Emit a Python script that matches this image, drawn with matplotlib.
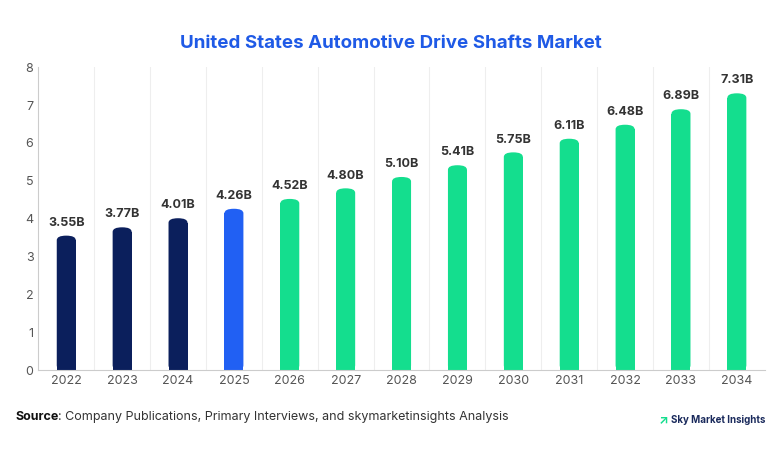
import matplotlib.pyplot as plt
from matplotlib.patches import FancyBboxPatch

years = ['2022', '2023', '2024', '2025', '2026', '2027', '2028', '2029', '2030', '2031', '2032', '2033', '2034']
values = [3.55, 3.77, 4.01, 4.26, 4.52, 4.80, 5.10, 5.41, 5.75, 6.11, 6.48, 6.89, 7.31]
labels = ['3.55B', '3.77B', '4.01B', '4.26B', '4.52B', '4.80B', '5.10B', '5.41B', '5.75B', '6.11B', '6.48B', '6.89B', '7.31B']
colors = ['#0b1f5c'] * 3 + ['#2160f3'] + ['#14de8e'] * 9

plt.rcParams['font.family'] = ['Inter', 'DejaVu Sans']
fig = plt.figure(figsize=(7.82, 4.54), dpi=100)
ax = fig.add_axes([0.049, 0.185, 0.929, 0.667])

w = 0.34
for i, (v, c) in enumerate(zip(values, colors)):
    # bar body plus rounded top
    ax.bar(i, v - 0.12, width=w, color=c, align='center')
    ax.add_patch(FancyBboxPatch((i - w / 2, 0), w, v,
                                boxstyle='round,pad=0,rounding_size=0.17',
                                mutation_aspect=0.7, fc=c, ec='none'))
    ax.text(i, v + 0.18, labels[i], ha='center', va='bottom',
            fontsize=9, fontweight='bold', color='#333333')

ax.set_xlim(-0.5, len(years) - 0.5)
ax.set_ylim(0, 8)
ax.set_xticks(range(len(years)))
ax.set_xticklabels(years)
ax.set_xticks([i + 0.5 for i in range(len(years) - 1)], minor=True)
ax.grid(axis='x', which='minor', color='#eeeeee', lw=0.8)
ax.tick_params(which='both', length=0)
ax.tick_params(labelsize=9, colors='#555555')
for s in ['top', 'right']:
    ax.spines[s].set_visible(False)
for s in ['left', 'bottom']:
    ax.spines[s].set_color('#cccccc')
ax.set_axisbelow(True)

fig.text(0.5, 0.895, 'United States Automotive Drive Shafts Market', ha='center',
         fontsize=13.5, fontweight='bold', color='#1f5ae6')
fig.text(0.02, 0.075, 'Source', fontsize=9, fontweight='bold', color='#111111')
fig.text(0.074, 0.075, ': Company Publications, Primary Interviews, and skymarketinsights Analysis',
         fontsize=9, color='#333333')
fig.text(0.855, 0.068, '\u2197', fontsize=9, fontweight='bold', color='#14de8e', ha='right')
fig.text(0.858, 0.068, 'Sky Market Insights', fontsize=7, fontweight='bold', color='#1a2a5c')

fig.savefig('out.png', dpi=100)
